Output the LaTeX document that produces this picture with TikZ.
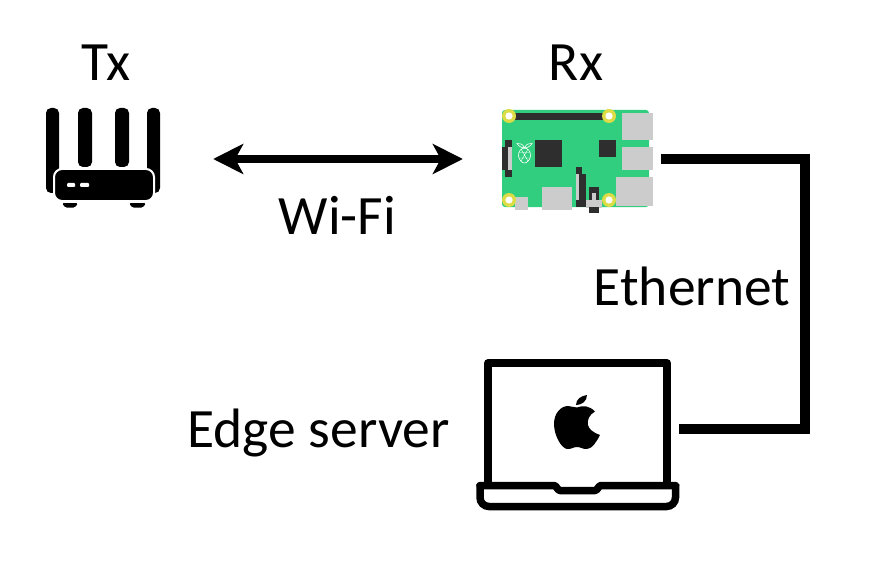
\documentclass[tikz,border=0pt]{standalone}
\usepackage{fontspec}
\setmainfont{Carlito}
\usetikzlibrary{arrows.meta}
\definecolor{board}{HTML}{30CE7E}
\definecolor{chipdark}{HTML}{2E2E2E}
\definecolor{portgrey}{HTML}{CCCCCC}
\definecolor{holeyellow}{HTML}{DCDC46}
\tikzset{
  lbl/.style={font=\fontsize{55.5}{60}\selectfont,inner sep=0pt,text=black},
  iconbox/.style={inner sep=0pt,minimum width=#1},
  wire/.style={line width=10pt,line cap=butt,line join=miter},
  wifi/.style={line width=8pt,{Stealth[length=30pt,width=30pt,inset=8pt]}-{Stealth[length=30pt,width=30pt,inset=8pt]}},
  chip/.style={fill=chipdark,draw=none},
  port/.style={fill=portgrey,draw=none},
  ant/.style={fill=black,draw=none,rounded corners=5pt},
}
\begin{document}
\begin{tikzpicture}[x=1pt,y=-1pt]
\useasboundingbox (0,0) rectangle (872,564);
% router
\path[ant] (46,193) rectangle (59,108);
\path[ant] (78,167) rectangle (92,108);
\path[ant] (115,167) rectangle (129,108);
\path[ant] (147,193) rectangle (160,108);
\path[fill=black,draw=white,line width=2pt,rounded corners=8pt] (54,169) rectangle (154,201);
\path[fill=white,rounded corners=1pt] (67,183) rectangle (75,187);
\path[fill=white,rounded corners=1pt] (80,183) rectangle (89,187);
\path[fill=black,rounded corners=1.5pt] (62,203) -- (78,203) -- (75,207.5) -- (65,207.5) -- cycle;
\path[fill=black,rounded corners=1.5pt] (129,203) -- (146,203) -- (143,207.5) -- (132,207.5) -- cycle;
% raspberry pi
\path[fill=board,rounded corners=3pt] (502,110) rectangle (649,207);
\path[chip] (515,113) rectangle (603,120);
\path[port] (622,113) rectangle (653,140);
\path[port] (622,147) rectangle (653,170);
\path[port] (616,177) rectangle (653,206);
\path[chip] (535,140) rectangle (562,167);
\path[chip] (599,140) rectangle (616,157);
\path[chip] (505,140) rectangle (512,177);
\path[chip] (502,147) rectangle (509,170);
\path[port] (508,147) rectangle (512,170);
\path[chip] (576,167) rectangle (582,207);
\path[chip] (582,174) rectangle (586,207);
\path[port] (576,174) rectangle (579,200);
\path[port] (542,187) rectangle (572,210);
\path[port] (515,197) rectangle (528,210);
\path[chip] (589,187) rectangle (599,200);
\path[port] (586,200) rectangle (602,208);
\path[port] (592,193) rectangle (596,200);
\path[chip] (589,207) rectangle (599,213);
\foreach \hx/\hy in {509/116,609/116,509/200,609/200}{
  \path[fill=holeyellow] (\hx,\hy) circle (7);
  \path[fill=white] (\hx,\hy) circle (3.6);
}
% raspberry logo
\draw[white,line width=.6pt] (524.5,148) .. controls (528,148) and (531,152) .. (530.5,156) .. controls (530,160) and (527,163) .. (524.5,163) .. controls (522,163) and (519,160) .. (518.5,156) .. controls (518,152) and (521,148) .. (524.5,148) -- cycle;
\draw[white,line width=.6pt] (524.5,148) .. controls (522,148) and (518,146) .. (517,143.5) .. controls (520,143) and (523,144) .. (524.5,148) .. controls (526,144) and (529,143) .. (532,143.5) .. controls (531,146) and (527,148) .. (524.5,148) -- cycle;
\draw[white,line width=.4pt] (519,152.5) -- (530,152.5) (519,158) -- (530,158) (521,149) -- (528,161) (528,149) -- (521,161);
% laptop
\draw[line width=7.5pt,line join=round] (488,484) -- (488,363) -- (667,363) -- (667,484);
\draw[line width=7.5pt,line join=round,line cap=round,rounded corners=1pt] (480,485.5) -- (555,485.5) -- (559,490.5) -- (596,490.5) -- (600,485.5) -- (675.5,485.5);
\draw[line width=7.5pt,rounded corners=9pt] (480,484) -- (480,506.5) -- (675.5,506.5) -- (675.5,484);
% apple
\path[fill=black] (577,407.5) .. controls (583,405) and (590,406) .. (595,411.5) .. controls (589,415) and (587,420) .. (588,425) .. controls (589,429) and (592,432) .. (600,435) .. controls (597,441) and (592,449) .. (587,449) .. controls (583,449.5) and (581,447) .. (577,447) .. controls (573,447) and (571,449.5) .. (567,449) .. controls (561,448) and (554,435) .. (554,424) .. controls (554,413) and (561,406) .. (568,406) .. controls (571,406) and (574,407.5) .. (577,407.5) -- cycle;
\path[fill=black] (576,405) .. controls (576,399) and (581,396) .. (587,395) .. controls (587,401) and (582,405) .. (576,405) -- cycle;
% invisible icon nodes for connectors
\node[iconbox=114pt,minimum height=100pt] (tx) at (103,159) {};
\node[iconbox=151pt,minimum height=100pt] (rx) at (577.5,159) {};
\node[iconbox=203pt,minimum height=151pt] (mac) at (577.5,429) {};
\coordinate (corner1) at (805,159);
\coordinate (corner2) at (805,429);
\draw[wifi,shorten <=53pt,shorten >=39pt] (tx.east) -- (rx.west);
\draw[wire,shorten <=8pt] (rx.east) -- (corner1) -- (corner2) -- (mac.east);
% labels
\node[lbl,anchor=base] (txl) at (106,81) {Tx};
\node[lbl,anchor=base] (rxl) at (576,81) {Rx};
\node[lbl,anchor=base] (wifil) at (337.5,234) {Wi-Fi};
\node[lbl,anchor=base] (ethl) at (692,305) {Ethernet};
\node[lbl,anchor=base] (edgel) at (318.5,447) {Edge server};
\end{tikzpicture}
\end{document}
